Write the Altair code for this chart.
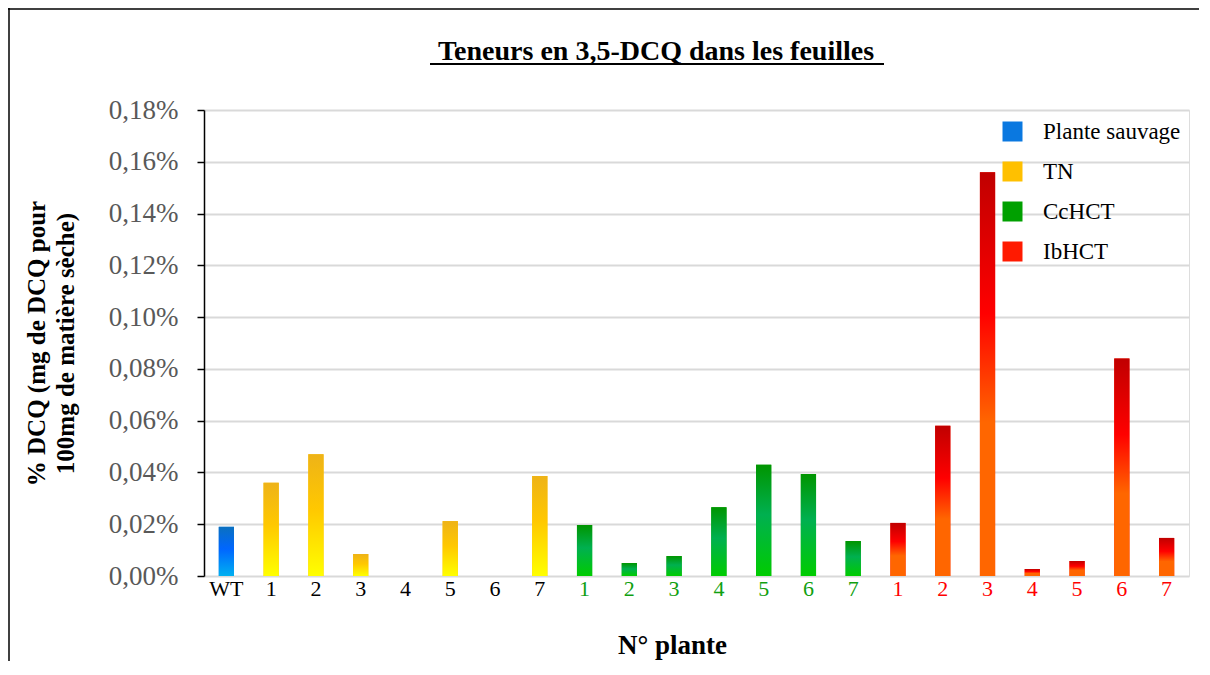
import altair as alt
import pandas as pd

# ---- data ----
groups = ["Plante sauvage"] + ["TN"] * 7 + ["CcHCT"] * 7 + ["IbHCT"] * 7
numbers = ["WT"] + ["1", "2", "3", "4", "5", "6", "7"] * 3
values = [0.019,
          0.036, 0.047, 0.0085, 0.0, 0.0212, 0.0, 0.0386,
          0.0197, 0.005, 0.0077, 0.0266, 0.043, 0.0394, 0.0135,
          0.0205, 0.058, 0.156, 0.0027, 0.0058, 0.084, 0.0147]
legend_order = ["Plante sauvage", "TN", "CcHCT", "IbHCT"]
legend_colors = ["#0A78E0", "#FFC000", "#00A000", "#FF1A00"]
y_ticks = [0, 0.02, 0.04, 0.06, 0.08, 0.10, 0.12, 0.14, 0.16, 0.18]
title_text = "Teneurs en 3,5-DCQ dans les feuilles"

ids = [f"{g}|{n}" for g, n in zip(groups, numbers)]
df = pd.DataFrame({"id": ids, "group": groups, "num": numbers, "value": values})

FONT = "Liberation Serif"

gradients = {
    "Plante sauvage": [("#0A70C0", 0), ("#0066FF", 0.45), ("#00B0F0", 1)],
    "TN": [("#EEB318", 0), ("#FFC800", 0.45), ("#FFFF00", 1)],
    "CcHCT": [("#009500", 0), ("#00B050", 0.45), ("#00CC00", 1)],
    "IbHCT": [("#C00000", 0), ("#FF0000", 0.35), ("#FF6600", 0.62), ("#FF6600", 1)],
}

x_enc = alt.X(
    "id:N", sort=ids,
    scale=alt.Scale(paddingInner=0.66, paddingOuter=0.33),
    axis=alt.Axis(
        title="N° plante", labelAngle=0,
        labelExpr="split(datum.value, '|')[1]",
        labelColor=alt.ExprRef(expr="indexof(datum.value, 'CcHCT') >= 0 ? '#10A010' : (indexof(datum.value, 'IbHCT') >= 0 ? '#FF0000' : '#000000')"),
        labelFont=FONT, labelFontSize=22, labelPadding=2,
        ticks=False, domain=False, grid=False,
        titleFont=FONT, titleFontSize=27, titleFontWeight="bold", titleColor="#000000",
        titlePadding=33, titleX=468, titleAlign="center",
    ),
)
y_enc = alt.Y(
    "value:Q",
    scale=alt.Scale(domain=[0, 0.18], nice=False),
    axis=alt.Axis(
        values=y_ticks,
        title=["% DCQ (mg de DCQ pour", "100mg de matière sèche)"],
        labelExpr="replace(format(datum.value, '.2f'), '.', ',') + '%'",
        labelFont=FONT, labelFontSize=27, labelColor="#595959", labelPadding=19,
        tickSize=7, tickColor="#000000", tickWidth=1.5,
        domainColor="#000000", domainWidth=1.5,
        gridColor="#D9D9D9", gridWidth=2,
        titleFont=FONT, titleFontSize=25, titleFontWeight="bold", titleColor="#000000",
        titlePadding=30, titleLineHeight=29,
    ),
)

base = alt.Chart(df).mark_bar().encode(
    x=x_enc, y=y_enc,
    color=alt.Color(
        "group:N",
        scale=alt.Scale(domain=legend_order, range=legend_colors),
        legend=alt.Legend(
            title=None, orient="none", legendX=797, legendY=10,
            symbolType="square", symbolSize=400, symbolStrokeWidth=0,
            labelFont=FONT, labelFontSize=23, labelColor="#000000",
            rowPadding=16, labelOffset=19,
        ),
    ),
)

layers = [base]
for g in legend_order:
    grad = alt.LinearGradient(
        gradient="linear",
        stops=[alt.GradientStop(color=c, offset=o) for c, o in gradients[g]],
        x1=0, x2=0, y1=0, y2=1,
    )
    layers.append(
        alt.Chart(df).transform_filter(alt.datum.group == g)
        .mark_bar(fill=grad).encode(x=x_enc, y=y_enc)
    )

deco = pd.DataFrame({"k": [0]})
frame_left = alt.Chart(deco).mark_rule(color="#000000", strokeWidth=1.5).encode(
    x=alt.value(-195), y=alt.value(-102), y2=alt.value(650)
)
frame_top = alt.Chart(deco).mark_rule(color="#000000", strokeWidth=1.5).encode(
    x=alt.value(-196), x2=alt.value(1100), y=alt.value(-101)
)
title = alt.Chart(deco).mark_text(
    font=FONT, fontSize=28, fontWeight="bold", color="#000000", align="center", baseline="alphabetic"
).encode(x=alt.value(452), y=alt.value(-50), text=alt.value(title_text))
underline = alt.Chart(deco).mark_rule(color="#000000", strokeWidth=2).encode(
    x=alt.value(226), x2=alt.value(680), y=alt.value(-46)
)
layers += [frame_left, frame_top, title, underline]

chart = alt.layer(*layers).properties(
    width=985, height=466,
    autosize=alt.AutoSizeParams(type="none"),
    padding={"left": 196, "top": 102, "right": 10, "bottom": 85},
).configure_view(stroke=None).configure(font=FONT, background="white")

chart.save("out.html", embed_options={"renderer": "svg", "actions": False})
